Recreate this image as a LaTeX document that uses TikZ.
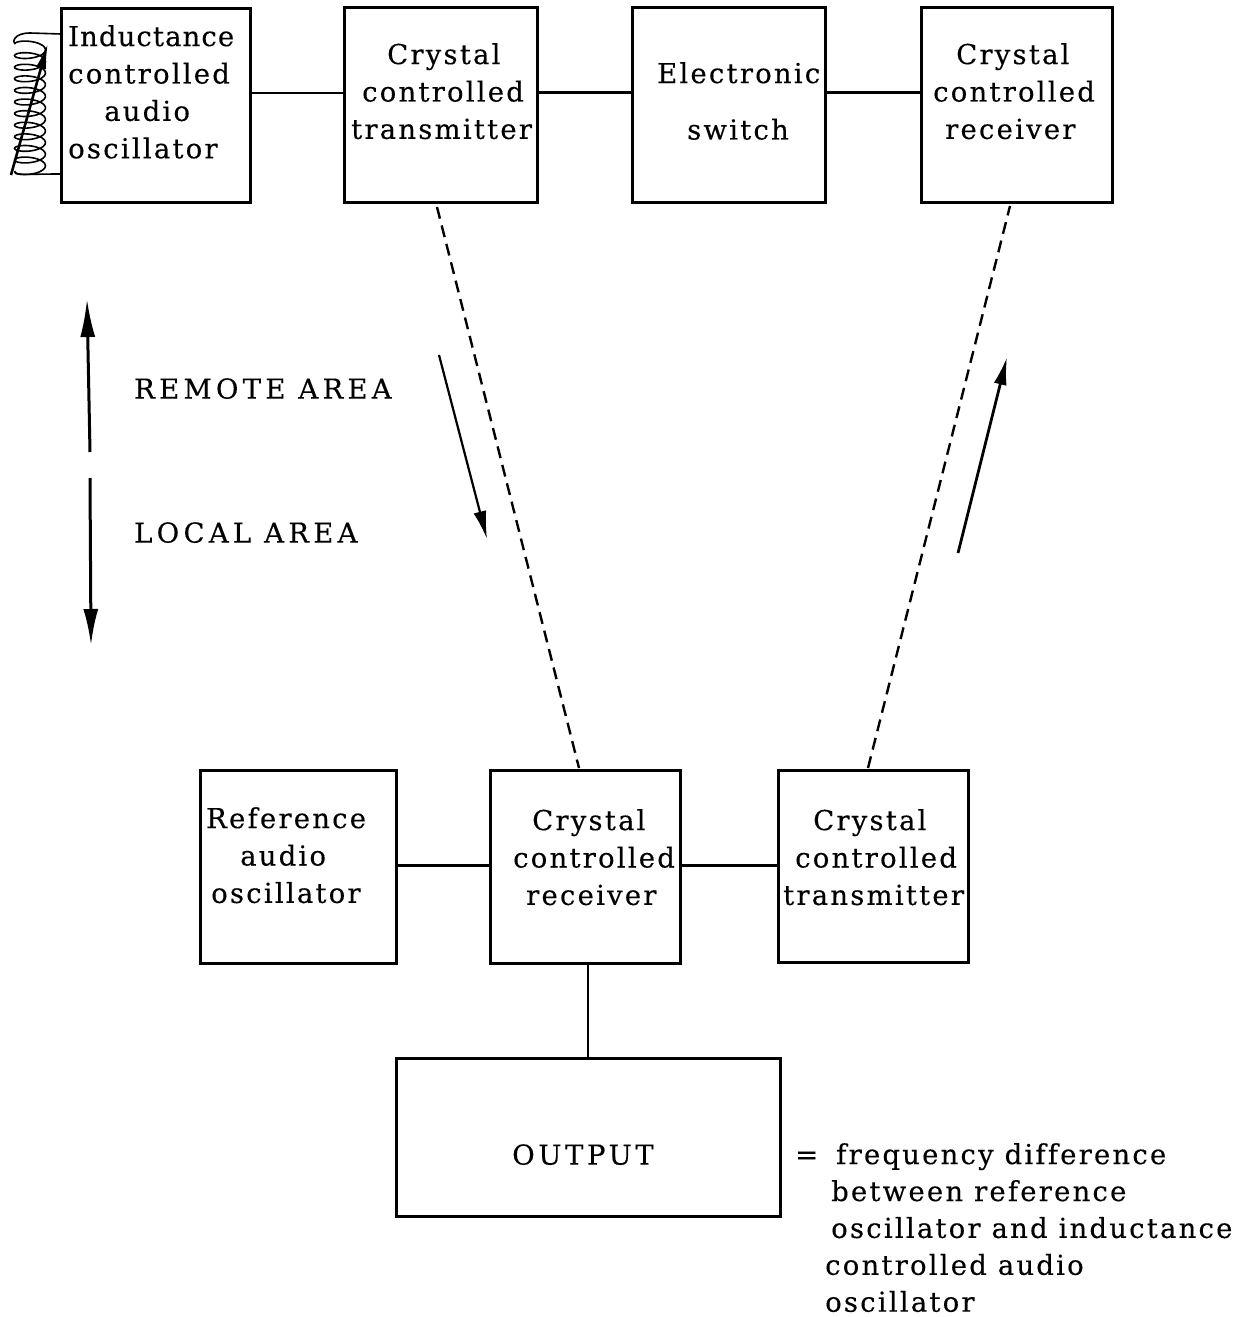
\documentclass[tikz,border=0pt]{standalone}
\usepackage{fontspec}
\setmainfont[LetterSpace=8,Ligatures=NoCommon,FakeBold=0.25]{DejaVu Serif}
\newfontfamily\capsfont[LetterSpace=13,FakeBold=0.25]{DejaVu Serif}
\newfontfamily\areafont[LetterSpace=15.5,FakeBold=0.25]{DejaVu Serif}
\newfontfamily\tightfont[LetterSpace=4,FakeBold=0.25]{DejaVu Serif}
\usetikzlibrary{arrows.meta,calc}
\tikzset{
  x=1pt,y=-1pt,
  box/.style={draw,line width=3pt,inner sep=0pt,rectangle},
  txt/.style={align=left,anchor=north west,inner sep=0pt,font=\fontsize{27.5}{37.4}\selectfont},
  link/.style={line width=2.2pt},
  radio/.style={line width=2.4pt,dash pattern=on 12pt off 7pt},
  tip/.style={-{Latex[length=28pt,width=13pt]}},
}
\begin{document}
\begin{tikzpicture}
\useasboundingbox (0,0) rectangle (1252,1317);
% boxes
\node[box,minimum width=189pt,minimum height=194pt] (ind) at (155.5,105) {};
\node[box,minimum width=193pt,minimum height=195pt] (tx1) at (440.5,104.5) {};
\node[box,minimum width=193pt,minimum height=195pt] (sw) at (728.5,104.5) {};
\node[box,minimum width=191pt,minimum height=195pt] (rx1) at (1016.5,104.5) {};
\node[box,minimum width=196pt,minimum height=193pt] (ref) at (298,866.5) {};
\node[box,minimum width=190pt,minimum height=193pt] (rx2) at (585,866.5) {};
\node[box,minimum width=190pt,minimum height=192pt] (tx2) at (873,866) {};
\node[box,minimum width=384pt,minimum height=158pt] (out) at (588,1137) {};
% box texts
\node[txt] (tind) at (68,25) {{\tightfont Inductance}\\controlled\\\hspace*{36pt}audio\\oscillator};
\node[txt] (ttx1) at (351,43) {\hspace*{36pt}Crystal\\\hspace*{11pt}controlled\\transmitter};
\node[txt] (tsw) at (657,62) {Electronic\\[19pt]\hspace*{30pt}switch};
\node[txt] (trx1) at (933,43) {\hspace*{23pt}Crystal\\controlled\\\hspace*{12pt}receiver};
\node[txt] (tref) at (206,807) {Reference\\\hspace*{34pt}audio\\\hspace*{5pt}oscillator};
\node[txt] (trx2) at (513,809) {\hspace*{19pt}Crystal\\controlled\\\hspace*{13pt}receiver};
\node[txt] (ttx2) at (783,809) {\hspace*{30pt}Crystal\\\hspace*{12pt}controlled\\transmitter};
\node[txt] (tout) at (512,1144) {\capsfont OUTPUT};
\node[txt,font=\fontsize{27.5}{36.9}\selectfont] (tnote) at (795,1143) {=\hspace*{18pt}frequency difference\\\hspace*{36pt}between reference\\\hspace*{36pt}oscillator and inductance\\\hspace*{30pt}controlled audio\\\hspace*{30pt}oscillator};
\node[txt] (tremote) at (134,378) {\areafont REMOTE AREA};
\node[txt] (tlocal) at (134,522) {\areafont LOCAL AREA};
% solid connectors
\draw[link] ([yshift=12pt]ind.east) -- ([yshift=12pt]ind.east -| tx1.west);
\draw[link] ([yshift=12pt]tx1.east) -- ([yshift=12pt]tx1.east -| sw.west);
\draw[link] ([yshift=12pt]sw.east) -- ([yshift=12pt]sw.east -| rx1.west);
\draw[link] ([yshift=1pt]ref.east) -- ([yshift=1pt]ref.east -| rx2.west);
\draw[link] ([yshift=1pt]rx2.east) -- ([yshift=1pt]rx2.east -| tx2.west);
\draw[link] (rx2.south) ++(3,0) coordinate (c) -- (c |- out.north);
% radio links
\coordinate (a1) at (437,207);
\coordinate (a2) at (579,768);
\coordinate (b1) at (1010,206);
\coordinate (b2) at (868,768);
\draw[radio] (a1) -- (a2);
\draw[radio] (b2) -- (b1);
% direction arrows
\coordinate (d1) at (439,355); \coordinate (d2) at (487,539);
\coordinate (e1) at (958,553); \coordinate (e2) at (1007,357);
\draw[link,tip] (d1) -- (d2);
\draw[line width=2.8pt,tip] (e1) -- (e2);
\coordinate (r1) at (90,452); \coordinate (r2) at (87,299);
\coordinate (l1) at (90,478); \coordinate (l2) at (91,645);
\draw[line width=3pt,{Latex[length=38pt,width=15pt]}-] (r2) -- (r1);
\draw[line width=3pt,-{Latex[length=36pt,width=15pt]}] (l1) -- (l2);
% coil
\coordinate (ct) at (61,34); \coordinate (cb) at (61,174);
\draw[line width=1.6pt] (ct) -- (30,33)
  .. controls (14,33) and (12,42) .. (15,44);
\draw[line width=1.6pt,smooth] plot[domain=0:3960,samples=220,variable=\t] ({30+15.5*cos(\t+180)},{44+\t/360*11.6+5.5*sin(\t+180)});
\draw[line width=1.6pt] (14.5,171) .. controls (14,176) and (22,174) .. (cb);
\coordinate (rod1) at (11,175); \coordinate (rod2) at (48,43);
\draw[line width=2.6pt,-{Latex[length=26pt,width=10pt]}] (rod1) -- (rod2);
\end{tikzpicture}
\end{document}
